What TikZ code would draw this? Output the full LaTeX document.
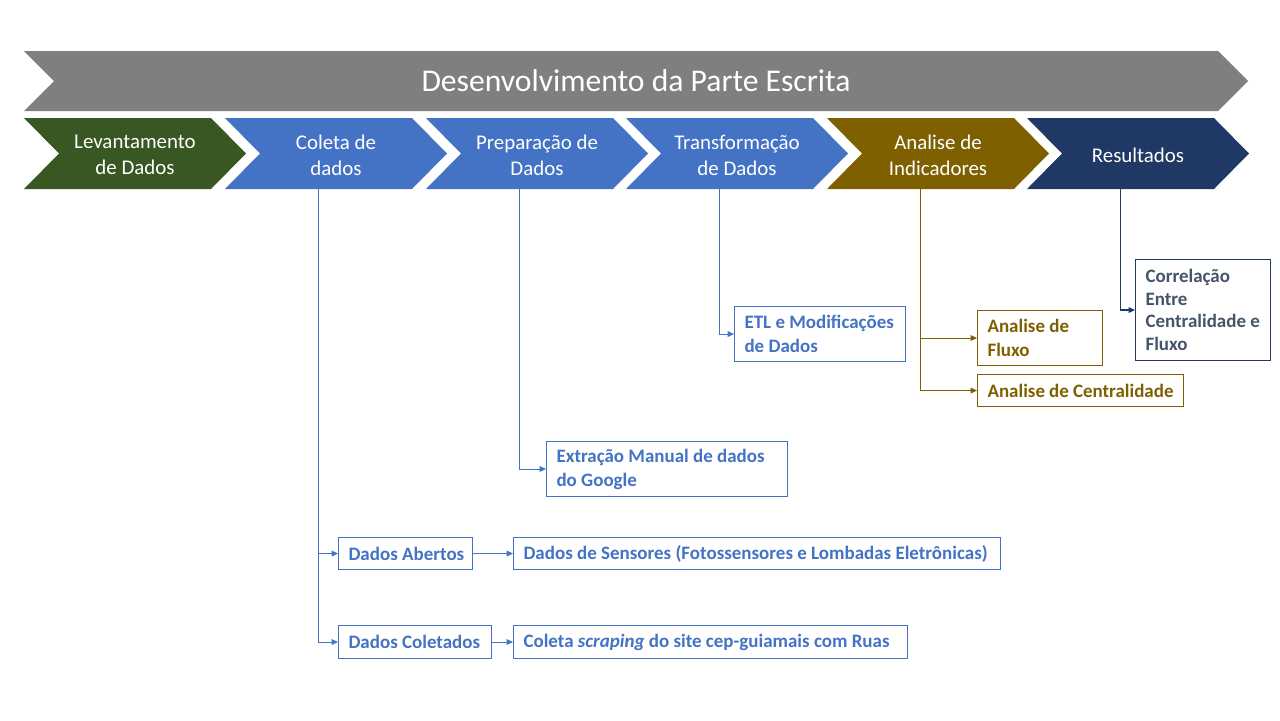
\documentclass[tikz,border=0pt]{standalone}
\usepackage{fontspec}
\setmainfont{Carlito}
\usetikzlibrary{arrows.meta, positioning, calc}

\definecolor{verde}{HTML}{385723}
\definecolor{azul}{HTML}{4472C4}
\definecolor{ouro}{HTML}{7F6000}
\definecolor{marinho}{HTML}{203864}
\definecolor{ardosia}{HTML}{44546A}
\definecolor{cinza}{HTML}{7F7F7F}

\begin{document}
\begin{tikzpicture}[x=0.02cm, y=-0.02cm, >={Triangle[length=3.6pt,width=3.2pt]}, line width=0.6pt]
  \tikzstyle{etapa}=[text=white, align=center, font=\fontsize{11.9}{14.7}\selectfont]
  \tikzstyle{caixa}=[draw, anchor=north west, align=flush left, inner xsep=0.2cm, inner ysep=0pt, font=\fontsize{10.8}{13.6}\selectfont\bfseries]
  \useasboundingbox (0,0) rectangle (1280,720);

  % Barra superior
  \fill[cinza] (24,51) -- (1218,51) -- (1248,81) -- (1218,111) -- (24,111) -- (54,81) -- cycle;
  \node[etapa, font=\fontsize{18}{21}\selectfont] (titulo) at (636,81) {Desenvolvimento da Parte Escrita};

  % Etapas
  \foreach \xl/\cor/\nome/\texto in {24/verde/levantamento/{Levantamento\\de Dados},
      225/azul/coleta/{Coleta de\\dados},
      426/azul/preparacao/{Preparação de\\Dados},
      626/azul/transformacao/{Transformação\\de Dados},
      827/ouro/analise/{Analise de\\Indicadores},
      1027/marinho/resultados/{Resultados}}
  {
    \fill[\cor] (\xl,118) -- ++(187,0) -- ++(35,35.5) -- ++(-35,35.5) -- ++(-187,0) -- ++(35,-35.5) -- cycle;
    \node[etapa] (\nome) at (\xl+111,155) {\texto};
    \coordinate (\nome-pe) at (\xl+93.5,189);
  }

  % Caixas
  \node[caixa, azul, text width=3.02cm, minimum height=1.1cm] (etl) at (734,306) {ETL e Modificações\\de Dados};
  \node[caixa, ouro, text width=2.1cm, minimum height=1.1cm] (fluxo) at (977,310) {Analise de\\Fluxo};
  \node[caixa, ouro, text width=3.72cm, minimum height=0.64cm] (centralidade) at (977,374) {Analise de Centralidade};
  \node[caixa, draw=marinho, text=ardosia, text width=2.3cm, minimum height=2.02cm, font=\fontsize{10.8}{12.9}\selectfont\bfseries] (correlacao) at (1135,259) {Correlação\\Entre\\Centralidade~e\\Fluxo};
  \node[caixa, azul, text width=4.42cm, minimum height=1.1cm] (extracao) at (546,441) {Extração Manual de dados\\do Google};
  \node[caixa, azul, text width=2.28cm, minimum height=0.64cm] (abertos) at (338,537) {\mbox{Dados Abertos}};
  \node[caixa, azul, text width=9.34cm, minimum height=0.64cm] (sensores) at (513,537) {Dados de Sensores (Fotossensores e Lombadas Eletrônicas)};
  \node[caixa, azul, text width=2.66cm, minimum height=0.66cm] (coletados) at (338,625) {\mbox{Dados Coletados}};
  \node[caixa, azul, text width=7.48cm, minimum height=0.66cm] (scraping) at (513,625) {Coleta \textit{scraping} do site cep-guiamais com Ruas};

  \draw[->, azul] (coleta-pe) |- (abertos.west);
  \draw[->, azul] (coleta-pe) |- (coletados.west);
  \draw[->, azul] (abertos) -- (sensores);
  \draw[->, azul] (coletados) -- (scraping);
  \draw[->, azul] (preparacao-pe) |- (extracao.west);
  \draw[->, azul] (transformacao-pe) |- (etl.west);
  \draw[->, ouro] (analise-pe) |- (fluxo.west);
  \draw[->, ouro] (analise-pe) |- (centralidade.west);
  \draw[->, marinho] (resultados-pe) |- (correlacao.west);
\end{tikzpicture}
\end{document}
